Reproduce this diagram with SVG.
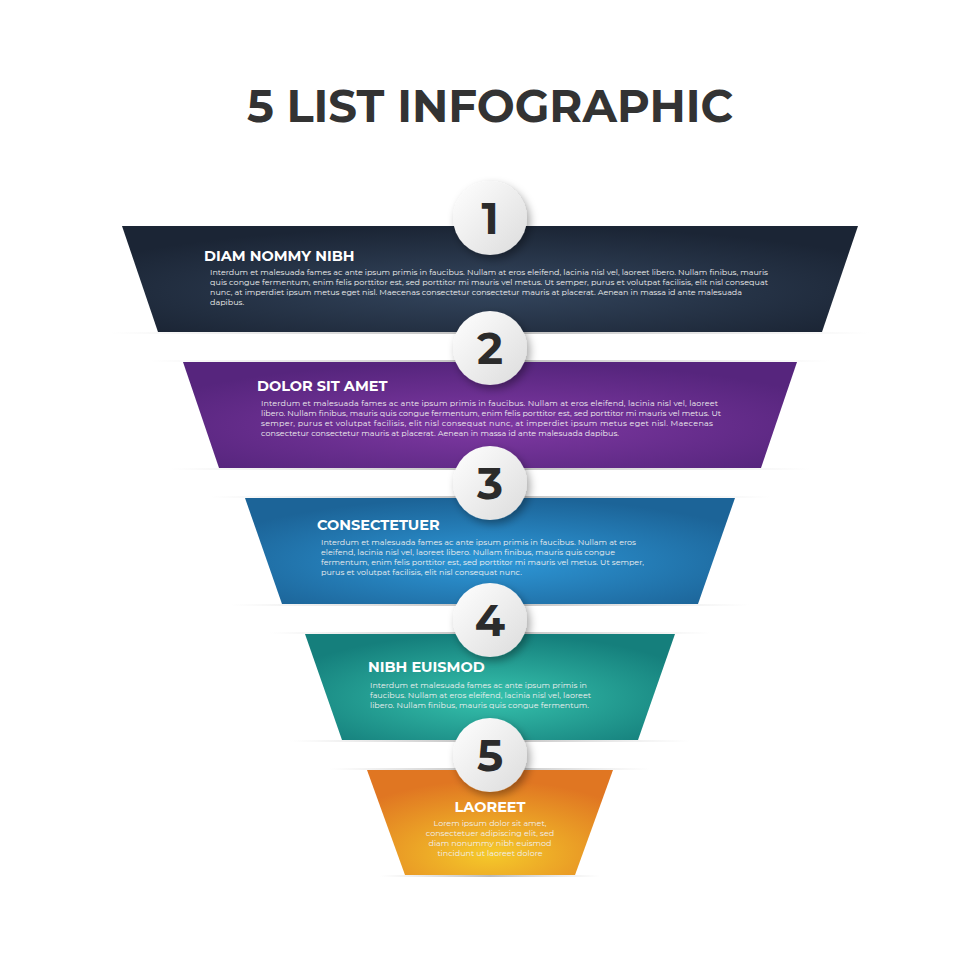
<svg xmlns="http://www.w3.org/2000/svg" width="980" height="980" viewBox="0 0 980 980">
<defs>
<radialGradient id="g1" cx="0.5" cy="0.6" r="0.6"><stop offset="0" stop-color="#34465e"/><stop offset="1" stop-color="#1b2535"/></radialGradient>
<radialGradient id="g2" cx="0.5" cy="0.6" r="0.6"><stop offset="0" stop-color="#7f39a3"/><stop offset="1" stop-color="#56257d"/></radialGradient>
<radialGradient id="g3" cx="0.5" cy="0.6" r="0.6"><stop offset="0" stop-color="#2e98d8"/><stop offset="1" stop-color="#1c6498"/></radialGradient>
<radialGradient id="g4" cx="0.5" cy="0.6" r="0.6"><stop offset="0" stop-color="#36c2ad"/><stop offset="1" stop-color="#157f7c"/></radialGradient>
<radialGradient id="g5" cx="0.5" cy="0.8" r="0.7"><stop offset="0" stop-color="#f5c92a"/><stop offset="1" stop-color="#e07622"/></radialGradient>
<linearGradient id="cg" x1="0" y1="0" x2="1" y2="1"><stop offset="0" stop-color="#ffffff"/><stop offset="1" stop-color="#dcdcdc"/></linearGradient>
<linearGradient id="sh" x1="0" y1="0" x2="1" y2="0"><stop offset="0" stop-color="#ccc" stop-opacity="0"/><stop offset="0.5" stop-color="#bbb"/><stop offset="1" stop-color="#ccc" stop-opacity="0"/></linearGradient>
<filter id="ds" x="-30%" y="-30%" width="160%" height="160%"><feDropShadow dx="3" dy="4" stdDeviation="4" flood-color="#000" flood-opacity="0.35"/></filter>
</defs>
<style>
.t{font-family:Montserrat,"Open Sans","Liberation Sans",sans-serif;font-weight:700;fill:#fff;font-size:14.5px}
.b{font-family:Montserrat,"Open Sans","Liberation Sans",sans-serif;fill:#f0f0f0;font-size:8px}
.n{font-family:Montserrat,"Open Sans","Liberation Sans",sans-serif;font-weight:700;fill:#2b2b2b;font-size:44px;text-anchor:middle}
.c{fill:url(#cg);filter:url(#ds)}
.s{fill:url(#sh)}
</style>
<rect width="980" height="980" fill="#fff"/>
<text x="490" y="122" text-anchor="middle" font-family="Montserrat,'Open Sans','Liberation Sans',sans-serif" font-weight="700" font-size="45" fill="#333">5 LIST INFOGRAPHIC</text>
<g id="shadows">
<rect class="s" x="110" y="332" width="760" height="2"/><rect class="s" x="150" y="360" width="680" height="2"/>
<rect class="s" x="170" y="468" width="640" height="2"/><rect class="s" x="210" y="496" width="560" height="2"/>
<rect class="s" x="230" y="604" width="520" height="2"/><rect class="s" x="270" y="632" width="440" height="2"/>
<rect class="s" x="290" y="740" width="400" height="2"/><rect class="s" x="330" y="768" width="320" height="2"/>
<rect class="s" x="380" y="875" width="220" height="2"/>
</g>
<g id="band1"><polygon points="122,226 858,226 822,332 158,332" fill="url(#g1)"/>
<text class="t" x="204" y="261">DIAM NOMMY NIBH</text>
<text class="b" x="210" y="275" textLength="558">Interdum et malesuada fames ac ante ipsum primis in faucibus. Nullam at eros eleifend, lacinia nisl vel, laoreet libero. Nullam finibus, mauris</text>
<text class="b" x="210" y="285" textLength="558">quis congue fermentum, enim felis porttitor est, sed porttitor mi mauris vel metus. Ut semper, purus et volutpat facilisis, elit nisl consequat</text>
<text class="b" x="210" y="295" textLength="532">nunc, at imperdiet ipsum metus eget nisl. Maecenas consectetur consectetur mauris at placerat. Aenean in massa id ante malesuada</text>
<text class="b" x="210" y="305">dapibus.</text></g>
<g id="band2"><polygon points="183,362 797,362 761,468 219,468" fill="url(#g2)"/>
<text class="t" x="257" y="391">DOLOR SIT AMET</text>
<text class="b" x="261" y="406" textLength="457">Interdum et malesuada fames ac ante ipsum primis in faucibus. Nullam at eros eleifend, lacinia nisl vel, laoreet</text>
<text class="b" x="261" y="416" textLength="460">libero. Nullam finibus, mauris quis congue fermentum, enim felis porttitor est, sed porttitor mi mauris vel metus. Ut</text>
<text class="b" x="261" y="426" textLength="452">semper, purus et volutpat facilisis, elit nisl consequat nunc, at imperdiet ipsum metus eget nisl. Maecenas</text>
<text class="b" x="261" y="436" textLength="358">consectetur consectetur mauris at placerat. Aenean in massa id ante malesuada dapibus.</text></g>
<g id="band3"><polygon points="245,498 735,498 698,604 282,604" fill="url(#g3)"/>
<text class="t" x="317" y="530">CONSECTETUER</text>
<text class="b" x="321" y="545" textLength="315">Interdum et malesuada fames ac ante ipsum primis in faucibus. Nullam at eros</text>
<text class="b" x="321" y="555" textLength="294">eleifend, lacinia nisl vel, laoreet libero. Nullam finibus, mauris quis congue</text>
<text class="b" x="321" y="565" textLength="323">fermentum, enim felis porttitor est, sed porttitor mi mauris vel metus. Ut semper,</text>
<text class="b" x="321" y="575" textLength="201">purus et volutpat facilisis, elit nisl consequat nunc.</text></g>
<g id="band4"><polygon points="305,634 675,634 638,740 342,740" fill="url(#g4)"/>
<text class="t" x="368" y="672">NIBH EUISMOD</text>
<text class="b" x="370" y="688" textLength="217">Interdum et malesuada fames ac ante ipsum primis in</text>
<text class="b" x="370" y="698" textLength="221">faucibus. Nullam at eros eleifend, lacinia nisl vel, laoreet</text>
<text class="b" x="370" y="708" textLength="219">libero. Nullam finibus, mauris quis congue fermentum.</text></g>
<g id="band5"><polygon points="367,770 613,770 575,875 405,875" fill="url(#g5)"/>
<text class="t" x="490" y="812" text-anchor="middle">LAOREET</text>
<text class="b" x="490" y="826" text-anchor="middle">Lorem ipsum dolor sit amet,</text>
<text class="b" x="490" y="836" text-anchor="middle">consectetuer adipiscing elit, sed</text>
<text class="b" x="490" y="846" text-anchor="middle">diam nonummy nibh euismod</text>
<text class="b" x="490" y="856" text-anchor="middle">tincidunt ut laoreet dolore</text></g>
<g id="n1"><circle class="c" cx="490" cy="218" r="37"/><text class="n" x="490" y="234">1</text></g>
<g id="n2"><circle class="c" cx="490" cy="348" r="37"/><text class="n" x="490" y="364">2</text></g>
<g id="n3"><circle class="c" cx="490" cy="483" r="37"/><text class="n" x="490" y="499">3</text></g>
<g id="n4"><circle class="c" cx="490" cy="620" r="37"/><text class="n" x="490" y="636">4</text></g>
<g id="n5"><circle class="c" cx="490" cy="755" r="37"/><text class="n" x="490" y="771">5</text></g>
<g id="connectors"/>
</svg>
